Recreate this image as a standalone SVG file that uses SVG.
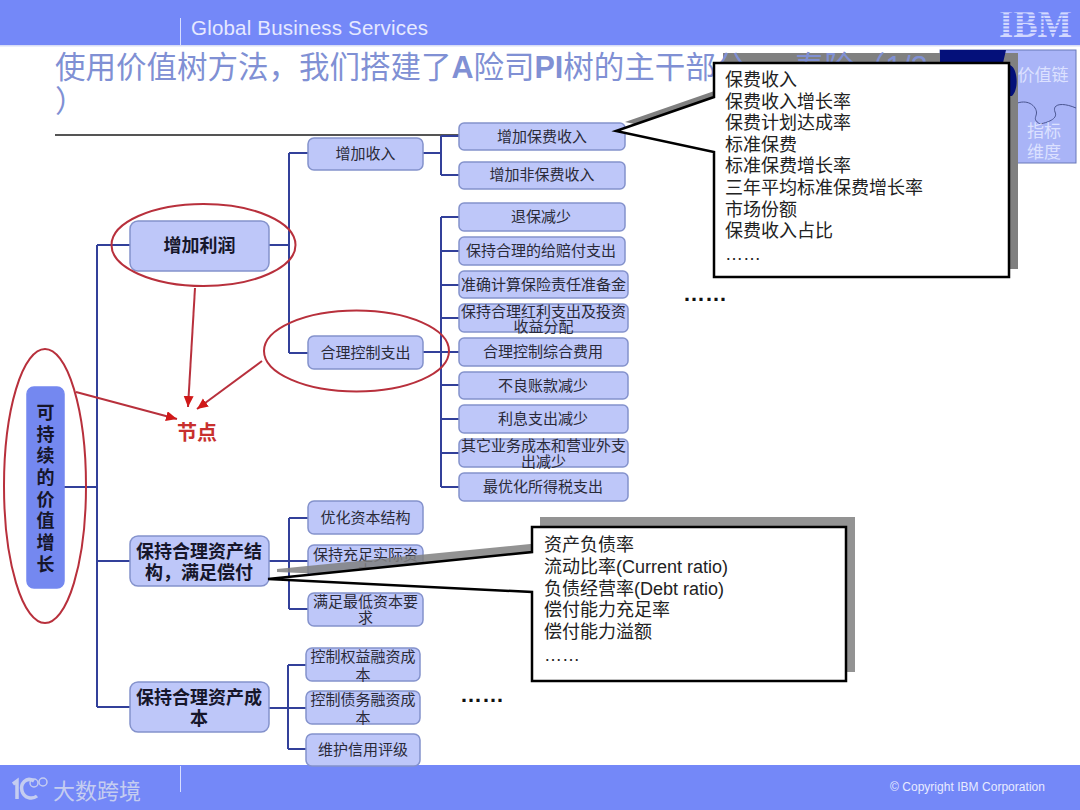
<svg xmlns="http://www.w3.org/2000/svg" width="1080" height="810" viewBox="0 0 1080 810">
<defs>
<marker id="ah" markerUnits="userSpaceOnUse" markerWidth="14" markerHeight="12" refX="11" refY="5" orient="auto"><path d="M0 0L11 5L0 10Z" fill="#D01818"/></marker>
</defs>
<style>
text{font-family:"Liberation Sans","Noto Sans CJK SC",sans-serif}
.b{fill:#BEC7F9;stroke:#8492CC;stroke-width:1.5}
.t{font-size:15px;fill:#2A2A38;text-anchor:middle}
.h{font-size:18px;font-weight:700;fill:#16162A;text-anchor:middle}
.c{fill:none;stroke:#32409A;stroke-width:2}
.e{fill:none;stroke:#B8303C;stroke-width:2}
.a{fill:none;stroke:#B8303C;stroke-width:2;marker-end:url(#ah)}
.l{font-size:18px;fill:#222}
.bar{fill:#7488F8}
.s{fill:#808080}
.w{fill:#FFF;stroke:#000;stroke-width:2.5}
.p{fill:#DCE1FF;font-size:17px;text-anchor:middle}
</style>
<rect width="1080" height="810" fill="#FFF"/>
<g id="header">
<rect class="bar" width="1080" height="45"/>
<rect x="0" y="45" width="1080" height="1.5" fill="#D8DDF5"/>
<rect x="180" y="18" width="1" height="27" fill="#D8DEFF"/>
<text x="191" y="35" font-size="20.5" fill="#E6E9FF" textLength="237">Global Business Services</text>
<text x="999" y="37" font-size="39" font-weight="700" fill="#D2D8FF" textLength="73" lengthAdjust="spacingAndGlyphs" style="font-family:'Liberation Serif',serif">IBM</text>
<g fill="#7488F8"><rect x="996" y="11" width="80" height="1.3"/><rect x="996" y="14.5" width="80" height="1.3"/><rect x="996" y="18" width="80" height="1.3"/><rect x="996" y="21.5" width="80" height="1.3"/><rect x="996" y="25" width="80" height="1.3"/><rect x="996" y="28.5" width="80" height="1.3"/><rect x="996" y="32" width="80" height="1.3"/></g>
</g>
<g id="footer">
<rect class="bar" y="765" width="1080" height="45"/>
<rect x="180" y="766" width="1" height="26" fill="#D8DEFF"/>
<text x="890" y="791" font-size="12" fill="#E8EBFF" textLength="155">© Copyright IBM Corporation</text>
<path d="M13 784L17 781V799M34 781C26 776 20 784 22 791C24 798 32 800 37 796" fill="none" stroke="#C5CDF0" stroke-width="3.5"/>
<circle cx="34" cy="783" r="4" fill="none" stroke="#C5CDF0" stroke-width="1.5"/><circle cx="43" cy="782" r="4" fill="none" stroke="#C5CDF0" stroke-width="1.5"/>
<text x="53" y="799" font-size="22" fill="#C5CDF0">大数跨境</text>
</g>
<rect x="55" y="134" width="405" height="2" fill="#555"/>
<g id="thumbnail">
<rect x="940" y="50" width="136" height="113" fill="#A9B4F7" stroke="#6878B8"/>
<path d="M1009 108C1018 100 1030 100 1035 108C1040 116 1030 118 1040 124C1050 122 1058 118 1055 112C1052 104 1062 102 1076 108" fill="none" stroke="#4A5590"/>
<text class="p" x="1043" y="81">价值链</text>
<text class="p" x="1044" y="137">指标</text>
<text class="p" x="1044" y="158">维度</text>
</g>
<g id="callout-1-shadow"><polygon class="s" points="723,53 1018,53 1018,269 723,269 723,143 625,122 723,88"/>
<path d="M940 50H1006L1003 63H940ZM1010 65C1018 68 1019 90 1012 96H1009V65Z" fill="#04107A"/></g>
<g id="title">
<text x="55" y="78" font-size="30.5" fill="#8090D4">使用价值树方法，我们搭建了<tspan font-weight="700">A</tspan>险司<tspan font-weight="700">PI</tspan>树的主干部分 — 寿险（1/3</text>
<text x="55" y="112" font-size="30.5" fill="#8090D4">）</text>
</g>
<g id="connectors">
<path class="c" d="M64 487H97M97 245V707M97 245H130M97 561H130M97 707H130"/>
<path class="c" d="M269 245H289M289 153V353M289 153H308M289 353H308"/>
<path class="c" d="M423 153H441M441 136V175M441 136H459M441 175H459"/>
<path class="c" d="M423 352H459M441 217V487M441 217H459M441 251H459M441 285H459M441 318H459M441 385H459M441 419H459M441 453H459M441 487H459"/>
<path class="c" d="M269 561H308M289 518V609M289 518H308M289 609H308"/>
<path class="c" d="M269 708H288M288 665V749M288 665H306M288 708H306M288 749H306"/>
</g>
<g id="n-root"><rect class="b" x="27" y="387" width="37" height="201" rx="7" style="fill:#7488F0;stroke:#7488F0"/>
<text class="h" x="45.500" y="419">可</text><text class="h" x="45.500" y="441">持</text><text class="h" x="45.500" y="462">续</text><text class="h" x="45.500" y="484">的</text><text class="h" x="45.500" y="506">价</text><text class="h" x="45.500" y="527">值</text><text class="h" x="45.500" y="549">增</text><text class="h" x="45.500" y="571">长</text></g>
<g id="n-profit"><rect class="b" x="130" y="221" width="139" height="50" rx="8"/><text class="h" x="199.500" y="252">增加利润</text></g>
<g id="n-assets"><rect class="b" x="130" y="536" width="139" height="50" rx="8"/><text class="h" x="199" y="558">保持合理资产结</text><text class="h" x="199" y="579">构，满足偿付</text></g>
<g id="n-cost"><rect class="b" x="130" y="682" width="139" height="50" rx="8"/><text class="h" x="199" y="704">保持合理资产成</text><text class="h" x="199" y="725">本</text></g>
<g id="n-income"><rect class="b" x="308" y="138" width="115" height="32" rx="6"/><text class="t" x="365.500" y="159">增加收入</text></g>
<g id="n-expense"><rect class="b" x="308" y="336" width="115" height="33" rx="6"/><text class="t" x="365.500" y="358">合理控制支出</text></g>
<g id="n-a1"><rect class="b" x="459" y="123" width="166" height="27" rx="5"/><text class="t" x="542" y="142">增加保费收入</text></g>
<g id="n-a2"><rect class="b" x="459" y="162" width="166" height="27" rx="5"/><text class="t" x="542" y="180">增加非保费收入</text></g>
<g id="n-b1"><rect class="b" x="459" y="203" width="166" height="28" rx="5"/><text class="t" x="541" y="222">退保减少</text></g>
<g id="n-b2"><rect class="b" x="459" y="237" width="166" height="28" rx="5"/><text class="t" x="541" y="256">保持合理的给赔付支出</text></g>
<g id="n-b3"><rect class="b" x="459" y="271" width="169" height="27" rx="5"/><text class="t" x="543.500" y="290">准确计算保险责任准备金</text></g>
<g id="n-b4"><rect class="b" x="459" y="304" width="169" height="28" rx="5"/><text class="t" x="543.500" y="317">保持合理红利支出及投资</text><text class="t" x="543.500" y="332">收益分配</text></g>
<g id="n-b5"><rect class="b" x="459" y="338" width="169" height="28" rx="5"/><text class="t" x="543" y="357">合理控制综合费用</text></g>
<g id="n-b6"><rect class="b" x="459" y="372" width="169" height="27" rx="5"/><text class="t" x="543" y="391">不良账款减少</text></g>
<g id="n-b7"><rect class="b" x="459" y="405" width="169" height="28" rx="5"/><text class="t" x="543" y="424">利息支出减少</text></g>
<g id="n-b8"><rect class="b" x="459" y="439" width="169" height="28" rx="5"/><text class="t" x="543.500" y="451">其它业务成本和营业外支</text><text class="t" x="543.500" y="467">出减少</text></g>
<g id="n-b9"><rect class="b" x="459" y="473" width="169" height="28" rx="5"/><text class="t" x="543" y="492">最优化所得税支出</text></g>
<g id="n-c1"><rect class="b" x="308" y="501" width="115" height="33" rx="6"/><text class="t" x="365.500" y="523">优化资本结构</text></g>
<g id="n-c2"><rect class="b" x="308" y="545" width="115" height="33" rx="6"/><text class="t" x="365.500" y="560">保持充足实际资</text><text class="t" x="365.500" y="576">本</text></g>
<g id="n-c3"><rect class="b" x="308" y="593" width="115" height="33" rx="6"/><text class="t" x="365.500" y="607">满足最低资本要</text><text class="t" x="365.500" y="623">求</text></g>
<g id="n-d1"><rect class="b" x="306" y="648" width="114" height="33" rx="6"/><text class="t" x="363" y="662">控制权益融资成</text><text class="t" x="363" y="680">本</text></g>
<g id="n-d2"><rect class="b" x="306" y="691" width="114" height="33" rx="6"/><text class="t" x="363" y="705">控制债务融资成</text><text class="t" x="363" y="723">本</text></g>
<g id="n-d3"><rect class="b" x="306" y="734" width="114" height="32" rx="6"/><text class="t" x="363" y="755">维护信用评级</text></g>
<g id="highlights">
<ellipse class="e" cx="203.500" cy="245" rx="92" ry="41"/>
<ellipse class="e" cx="356.500" cy="351" rx="92.500" ry="40.500"/>
<ellipse class="e" cx="45" cy="486" rx="41" ry="137"/>
<path class="a" d="M195 288L188 407"/>
<path class="a" d="M262 361L197 409"/>
<path class="a" d="M76 392L177 419"/>
</g>
<g id="n-node-label"><text x="197" y="440" font-size="20" font-weight="700" fill="#C8302E" text-anchor="middle">节点</text></g>
<text x="683" y="301" font-size="22" font-weight="700" fill="#111">……</text>
<text x="460" y="702" font-size="22" font-weight="700" fill="#111">……</text>
<g id="callout-1">
<polygon class="w" points="714,63 1009,63 1009,277 714,277 714,152 616,131 714,97"/>
<text class="l" x="725" y="86">保费收入</text>
<text class="l" x="725" y="108">保费收入增长率</text>
<text class="l" x="725" y="129">保费计划达成率</text>
<text class="l" x="725" y="151">标准保费</text>
<text class="l" x="725" y="172">标准保费增长率</text>
<text class="l" x="725" y="194">三年平均标准保费增长率</text>
<text class="l" x="725" y="216">市场份额</text>
<text class="l" x="725" y="237">保费收入占比</text>
<text class="l" x="725" y="260">……</text>
</g>
<g id="callout-2">
<polygon class="s" opacity="0.85" points="540,517 855,517 855,672 540,672 540,583 277,572 277,569 540,543"/>
<polygon class="w" points="532,527 846,527 846,681 532,681 532,592 268,579 532,552"/>
<text class="l" x="544" y="551">资产负债率</text>
<text class="l" x="544" y="573">流动比率(Current ratio)</text>
<text class="l" x="544" y="595">负债经营率(Debt ratio)</text>
<text class="l" x="544" y="616">偿付能力充足率</text>
<text class="l" x="544" y="638">偿付能力溢额</text>
<text class="l" x="544" y="661">……</text>
</g>
</svg>
